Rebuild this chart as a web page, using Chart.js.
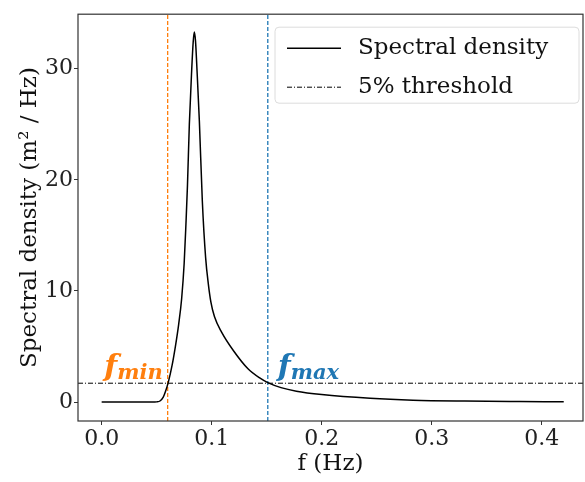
<!DOCTYPE html>
<html>
<head>
<meta charset="utf-8">
<script src="https://cdn.jsdelivr.net/npm/chart.js@4"></script>
<style>
  body { margin: 0; background: #fff; }
  canvas { display: block; }
</style>
</head>
<body>
<canvas id="psdChart" width="585" height="482"></canvas>
<script>
//----------spectral density----------

// frequency (Hz) and spectral density (m^2/Hz)
var freq = [0, 0.02, 0.04, 0.048, 0.05, 0.053, 0.056, 0.058, 0.0606, 0.064, 0.067, 0.07,
            0.0727, 0.075, 0.0766, 0.078, 0.0797, 0.0818, 0.0832, 0.0842, 0.0853, 0.0867,
            0.0888, 0.0915, 0.0945, 0.097, 0.0993, 0.1025, 0.109, 0.12, 0.133, 0.144,
            0.151, 0.163, 0.177, 0.2, 0.244, 0.283, 0.33, 0.38, 0.42];
var density = [0, 0, 0.005, 0.01, 0.02, 0.1, 0.45, 0.95, 1.8, 3.3, 5.0, 7.0,
               9.3, 12.5, 16.0, 19.5, 25.0, 29.8, 32.4, 33.3, 32.5, 29.8,
               25.3, 18.1, 13.0, 10.6, 9.0, 7.7, 6.3, 4.6, 3.0, 2.15,
               1.75, 1.3, 0.98, 0.68, 0.34, 0.17, 0.09, 0.05, 0.03];

var fMin = 0.06;
var fMax = 0.151;
var threshold = 1.7;

var xTicks = [0.0, 0.1, 0.2, 0.3, 0.4];
var yTicks = [0, 10, 20, 30];
var xRange = [-0.0215, 0.4375];
var yRange = [-1.7, 34.9];

var seriesLabels = ["Spectral density", "5% threshold"];

var serif = "'DejaVu Serif', 'Liberation Serif', serif";
var orange = "#ff7f0e";
var blue = "#1f77b4";

var curve = freq.map(function(f, i){ return {x: f, y: density[i]}; });

// frame + legend + f_min / f_max labels
var decorations = {
	id: 'decorations',
	afterDraw: function(chart){
		var ctx = chart.ctx, a = chart.chartArea;
		var xs = chart.scales.x, ys = chart.scales.y;
		ctx.save();

		// axes frame
		ctx.strokeStyle = '#333';
		ctx.lineWidth = 1.2;
		ctx.strokeRect(a.left, a.top, a.right - a.left, a.bottom - a.top);

		// f_min / f_max labels
		var base = ys.getPixelForValue(threshold) - 7;
		function mathLabel(sub, x, color, alignRight){
			ctx.fillStyle = color;
			ctx.textBaseline = 'alphabetic';
			ctx.textAlign = 'left';
			ctx.font = 'italic bold 30px ' + serif;
			var wf = ctx.measureText('f').width;
			ctx.font = 'italic bold 21px ' + serif;
			var ws = ctx.measureText(sub).width;
			var x0 = alignRight ? x - wf - ws : x;
			ctx.font = 'italic bold 30px ' + serif;
			ctx.fillText('f', x0, base);
			ctx.font = 'italic bold 21px ' + serif;
			ctx.fillText(sub, x0 + wf, base + 3);
		}
		mathLabel('min', xs.getPixelForValue(fMin) - 5, orange, true);
		mathLabel('max', xs.getPixelForValue(fMax) + 10, blue, false);

		// legend
		var bx = a.left + 197, by = a.top + 13, bw = a.right - 4 - bx, bh = 76;
		ctx.beginPath();
		ctx.roundRect(bx, by, bw, bh, 4);
		ctx.fillStyle = 'rgba(255,255,255,0.85)';
		ctx.fill();
		ctx.strokeStyle = '#dcdcdc';
		ctx.lineWidth = 1;
		ctx.stroke();

		var rows = [by + 21, by + 60];
		chart.data.datasets.forEach(function(ds){
			if (ds.legendRow === undefined) return;
			var yy = rows[ds.legendRow];
			ctx.beginPath();
			ctx.setLineDash(ds.borderDash || []);
			ctx.strokeStyle = ds.borderColor;
			ctx.lineWidth = ds.borderWidth;
			ctx.moveTo(bx + 12, yy);
			ctx.lineTo(bx + 66, yy);
			ctx.stroke();
			ctx.setLineDash([]);
			ctx.fillStyle = '#111';
			ctx.font = '23px ' + serif;
			ctx.textAlign = 'left';
			ctx.textBaseline = 'middle';
			ctx.fillText(ds.label, bx + 83, yy);
		});
		ctx.restore();
	}
};

var ctx = document.getElementById("psdChart").getContext('2d');
var myChart = new Chart(ctx, {
	type: 'line',
	data: {
		datasets: [
		{
			label: seriesLabels[0],
			legendRow: 0,
			data: curve,
			borderColor: '#000',
			borderWidth: 1.5,
			pointRadius: 0,
			cubicInterpolationMode: 'monotone',
			fill: false
		},
		{
			label: seriesLabels[1],
			legendRow: 1,
			data: [{x: xRange[0], y: threshold}, {x: xRange[1], y: threshold}],
			borderColor: '#000',
			borderWidth: 1,
			borderDash: [5, 2, 1, 2],
			pointRadius: 0
		},
		{
			label: 'fmin',
			data: [{x: fMin, y: yRange[0]}, {x: fMin, y: yRange[1]}],
			borderColor: orange,
			borderWidth: 1.3,
			borderDash: [4, 2],
			pointRadius: 0
		},
		{
			label: 'fmax',
			data: [{x: fMax, y: yRange[0]}, {x: fMax, y: yRange[1]}],
			borderColor: blue,
			borderWidth: 1.3,
			borderDash: [4, 2],
			pointRadius: 0
		}
		]
	},
	options: {
		responsive: false,
		animation: false,
		layout: { padding: { top: 13, right: 2, left: 0, bottom: 0 } },
		plugins: {
			legend: { display: false },
			tooltip: { enabled: false }
		},
		scales: {
			x: {
				type: 'linear',
				min: xRange[0],
				max: xRange[1],
				afterFit: function(s){ s.height = 61; },
				afterBuildTicks: function(s){ s.ticks = xTicks.map(function(v){ return {value: v}; }); },
				ticks: {
					padding: 1,
					color: '#222',
					font: { family: serif, size: 22 },
					callback: function(v){ return v.toFixed(1); }
				},
				grid: { drawOnChartArea: false, tickLength: 4, color: '#333' },
				border: { display: false },
				title: {
					display: true,
					text: 'f (Hz)',
					color: '#111',
					font: { family: serif, size: 23 },
					padding: { top: 0, bottom: 4 }
				}
			},
			y: {
				min: yRange[0],
				max: yRange[1],
				afterFit: function(s){ s.width = 78; },
				afterBuildTicks: function(s){ s.ticks = yTicks.map(function(v){ return {value: v}; }); },
				ticks: {
					padding: 1,
					color: '#222',
					font: { family: serif, size: 22 }
				},
				grid: { drawOnChartArea: false, tickLength: 4, color: '#333' },
				border: { display: false },
				title: {
					display: true,
					text: 'Spectral density (m² / Hz)',
					color: '#111',
					font: { family: serif, size: 23 },
					padding: { top: 16, bottom: 0 }
				}
			}
		}
	},
	plugins: [decorations]
});
</script>
</body>
</html>
